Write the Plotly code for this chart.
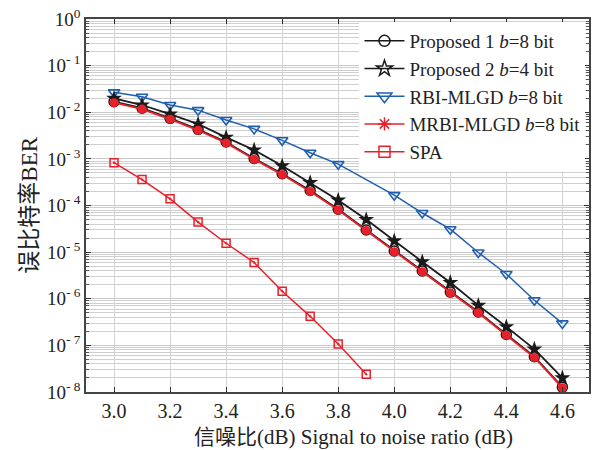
import plotly.graph_objects as go

snr = [3.0, 3.1, 3.2, 3.3, 3.4, 3.5, 3.6, 3.7, 3.8, 3.9, 4.0, 4.1, 4.2, 4.3, 4.4, 4.5, 4.6]
prop1 = [1.68e-2, 1.22e-2, 7.4e-3, 4.3e-3, 2.3e-3, 1.02e-3, 4.8e-4, 2.1e-4, 8.3e-5, 3.0e-5,
         1.06e-5, 3.95e-6, 1.39e-6, 5.2e-7, 1.72e-7, 5.7e-8, 1.27e-8]
prop2 = [1.99e-2, 1.43e-2, 9.1e-3, 5.6e-3, 2.9e-3, 1.55e-3, 7.1e-4, 3.1e-4, 1.3e-4, 5.0e-5,
         1.74e-5, 6.2e-6, 2.23e-6, 7.2e-7, 2.5e-7, 8.3e-8, 2.0e-8]
rbi_x = [3.0, 3.1, 3.2, 3.3, 3.4, 3.5, 3.6, 3.7, 3.8, 4.0, 4.1, 4.2, 4.3, 4.4, 4.5, 4.6]
rbi = [2.67e-2, 2.15e-2, 1.43e-2, 1.11e-2, 6.8e-3, 4.4e-3, 2.5e-3, 1.35e-3, 7.7e-4,
       1.67e-4, 6.9e-5, 3.1e-5, 9.8e-6, 3.4e-6, 9.3e-7, 2.96e-7]
mrbi = [1.6e-2, 1.17e-2, 7.1e-3, 4.1e-3, 2.2e-3, 9.8e-4, 4.6e-4, 2.0e-4, 8.0e-5, 2.9e-5,
        1.02e-5, 3.8e-6, 1.34e-6, 5.0e-7, 1.65e-7, 5.5e-8, 1.23e-8]
spa_x = [3.0, 3.1, 3.2, 3.3, 3.4, 3.5, 3.6, 3.7, 3.8, 3.9]
spa = [8.3e-4, 3.6e-4, 1.39e-4, 4.4e-5, 1.55e-5, 6.0e-6, 1.45e-6, 4.2e-7, 1.07e-7, 2.4e-8]

legend_names = ["Proposed 1 <i>b</i>=8 bit", "Proposed 2 <i>b</i>=4 bit", "RBI-MLGD <i>b</i>=8 bit",
                "MRBI-MLGD <i>b</i>=8 bit", "SPA"]
xticks = [3.0, 3.2, 3.4, 3.6, 3.8, 4.0, 4.2, 4.4, 4.6]
yexp = [0, -1, -2, -3, -4, -5, -6, -7, -8]
x_title = "信噪比(dB) Signal to noise ratio (dB)"
y_title = "误比特率BER"

BLACK = "#1a1a1a"
BLUE = "#1f5fb0"
RED = "#e8202a"
FONT = "Liberation Serif, Noto Sans CJK SC, serif"

fig = go.Figure()
# plotted traces
fig.add_trace(go.Scatter(x=rbi_x, y=rbi, mode="lines+markers", showlegend=False,
                         line=dict(color=BLUE, width=1.5),
                         marker=dict(symbol="triangle-down-open", size=10, color=BLUE, line=dict(width=1.6))))
fig.add_trace(go.Scatter(x=spa_x, y=spa, mode="lines+markers", showlegend=False,
                         line=dict(color=RED, width=1.5),
                         marker=dict(symbol="square-open-dot", size=8, color=RED, line=dict(width=1.5))))
fig.add_trace(go.Scatter(x=snr, y=prop2, mode="lines+markers", showlegend=False,
                         line=dict(color=BLACK, width=1.8),
                         marker=dict(symbol="star", size=12, color=BLACK)))
fig.add_trace(go.Scatter(x=snr, y=prop1, mode="lines+markers", showlegend=False,
                         line=dict(color=BLACK, width=1.8),
                         marker=dict(symbol="circle-open", size=10, color=BLACK, line=dict(width=1.5))))
fig.add_trace(go.Scatter(x=snr, y=mrbi, mode="lines+markers", showlegend=False,
                         line=dict(color=RED, width=1.8),
                         marker=dict(symbol="circle", size=9, color=RED)))

# legend entries
leg_specs = [
    (BLACK, "circle-open", 11),
    (BLACK, "star-open", 12),
    (BLUE, "triangle-down-open", 13),
    (RED, "asterisk-open", 11),
    (RED, "square-open", 11),
]
for name, (c, sym, sz) in zip(legend_names, leg_specs):
    fig.add_trace(go.Scatter(x=[None], y=[None], mode="lines+markers", name=name,
                             line=dict(color=c, width=1.5),
                             marker=dict(symbol=sym, size=sz, color=c, line=dict(width=1.5, color=c))))

fig.add_annotation(text=x_title, xref="paper", yref="paper", x=0.531, y=-0.121,
                   xanchor="center", yanchor="middle", showarrow=False,
                   font=dict(size=21, family=FONT, color="#222"))
fig.add_annotation(text=y_title, xref="paper", yref="paper", x=-0.113, y=0.5,
                   xanchor="center", yanchor="middle", showarrow=False, textangle=-90,
                   font=dict(size=23, family=FONT, color="#222"))

fig.update_layout(
    width=593, height=450,
    margin=dict(l=86, r=2, t=19, b=58),
    paper_bgcolor="white", plot_bgcolor="white",
    font=dict(family=FONT, size=19, color="#222"),
    legend=dict(x=0.993, xanchor="right", y=0.992, yanchor="top",
                bgcolor="white", borderwidth=0, font=dict(size=19, family=FONT, color="#222"),
                itemwidth=40, tracegroupgap=0),
    xaxis=dict(range=[2.9, 4.695], tickvals=xticks, ticktext=[f"{v:.1f}" for v in xticks],
               showgrid=True, gridcolor="#d4d4d4", gridwidth=1,
               ticks="inside", ticklen=5, tickcolor="#333", mirror="ticks",
               showline=True, linecolor="#444", linewidth=1.5, zeroline=False,
               tickfont=dict(size=20)),
    yaxis=dict(type="log", range=[-8, 0], tickvals=[10 ** e for e in yexp],
               ticktext=[f"10<sup>{e if e == 0 else '- ' + str(-e)}</sup>" for e in yexp],
               showgrid=True, gridcolor="#c8c8c8", gridwidth=1,
               ticks="inside", ticklen=5, tickcolor="#333", mirror="ticks",
               showline=True, linecolor="#444", linewidth=1.5, zeroline=False,
               tickfont=dict(size=19),
               minor=dict(dtick="D1", ticks="inside", ticklen=3, tickcolor="#555",
                          showgrid=True, gridcolor="#cfcfcf", gridwidth=1)),
)

fig.write_html("out.html")
